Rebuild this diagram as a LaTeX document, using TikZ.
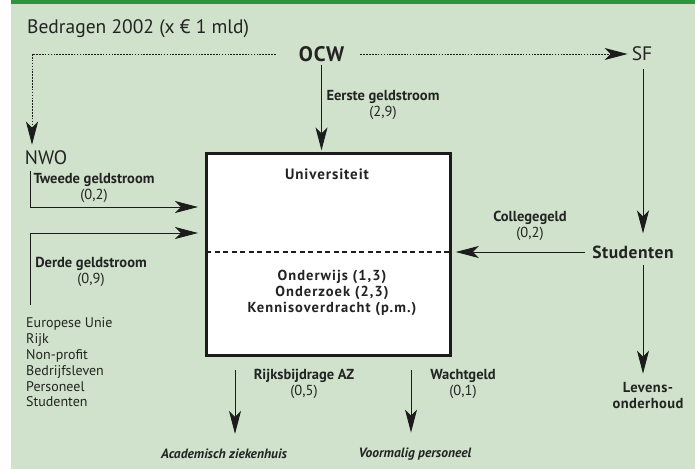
\documentclass[tikz,border=0pt]{standalone}
\usepackage{fontspec}
\setmainfont{PT Sans}
\usetikzlibrary{arrows.meta,positioning,calc}
\definecolor{panelbg}{RGB}{208,226,203}
\definecolor{panelbar}{RGB}{44,150,62}
\definecolor{inkline}{RGB}{28,28,28}
\definecolor{inktext}{RGB}{35,35,35}
\newcommand{\labelfont}{\fontsize{14.5}{16}\selectfont}
\newcommand{\bigfont}{\fontsize{19.5}{22}\selectfont}
\newcommand{\spaced}{\addfontfeature{LetterSpace=6}}
\tikzset{
  unibox/.style={draw=inkline, fill=white, line width=2.6pt,
    minimum width=244pt, minimum height=202pt, inner sep=0pt, outer sep=0pt},
  biglabel/.style={font=\bigfont, text=inktext, inner sep=2pt},
  bigbold/.style={font=\fontsize{21}{22}\selectfont\bfseries\addfontfeature{LetterSpace=5},
    text=inktext, inner sep=2pt},
  unititle/.style={font=\fontsize{15}{18}\selectfont\bfseries\spaced, text=inktext},
  tasklabel/.style={font=\fontsize{14.5}{16}\selectfont\bfseries\addfontfeature{LetterSpace=7},
    text=inktext, align=center},
  flowlabel/.style={font=\labelfont, text=inktext, align=center, inner sep=1pt},
  sinklabel/.style={font=\fontsize{13.5}{16}\selectfont\bfseries\itshape, text=inktext,
    inner sep=1pt},
  sourcelist/.style={font=\fontsize{14}{15.8}\selectfont, text=inktext, align=left,
    inner sep=1pt},
  arrow/.style={-{Stealth[length=23pt,width=12pt,inset=6pt]}, draw=inkline,
    line width=0.9pt},
  fundarrow/.style={arrow, dash pattern=on 1.6pt off 1.3pt},
  divider/.style={draw=inkline, line width=1.2pt, dash pattern=on 5pt off 3.5pt}
}

\begin{document}
\begin{tikzpicture}[x=1pt,y=-1pt]
  \useasboundingbox (0,0) rectangle (695,469);
  \fill[panelbg] (11,0) rectangle (695,469);
  \fill[panelbar] (11,0) rectangle (695,3.5);

  \node[biglabel, anchor=west] (title) at (25,29) {Bedragen 2002 (x € 1 mld)};
  \node[bigbold] (ocw) at (321.5,54) {OCW};
  \node[biglabel] (sf) at (642,54) {SF};
  \node[biglabel] (nwo) at (46,158) {NWO};
  \node[bigbold, font=\fontsize{17.5}{20}\selectfont\bfseries\addfontfeature{LetterSpace=3}]
    (studenten) at (633,252) {Studenten};

  \node[unibox] (univ) at (328.3,254.4) {};
  \node[unititle] (unititle) at (327,174) {Universiteit};
  \node[tasklabel] (tasks) at (332,293)
    {Onderwijs (1,3)\\Onderzoek (2,3)\\Kennisoverdracht (p.m.)};
  \coordinate (divy) at (0,252);
  \draw[divider] (univ.west |- divy) -- (univ.east |- divy);

  \node[sourcelist, anchor=west] (sources) at (25,362.5)
    {Europese Unie\\Rijk\\Non-profit\\Bedrijfsleven\\Personeel\\Studenten};
  \node[sinklabel] (az) at (224,454) {Academisch ziekenhuis};
  \node[sinklabel] (former) at (415,454) {Voormalig personeel};
  \node[flowlabel, font=\labelfont\bfseries\addfontfeature{LetterSpace=3}]
    (levens) at (648,396) {Levens-\\onderhoud};

  \node[flowlabel] (eerste) at (383,105.5) {\textbf{Eerste geldstroom}\\(2,9)};
  \node[flowlabel] (tweede) at (94,188) {\textbf{Tweede geldstroom}\\(0,2)};
  \node[flowlabel] (derde) at (91,272) {\textbf{Derde geldstroom}\\(0,9)};
  \node[flowlabel] (college) at (530,225.5) {\textbf{Collegegeld}\\(0,2)};
  \node[flowlabel] (rijks) at (304,384) {\textbf{Rijksbijdrage AZ}\\(0,5)};
  \node[flowlabel] (wacht) at (463,384) {\textbf{Wachtgeld}\\(0,1)};

  \coordinate (inlet2) at (198,207);
  \coordinate (inlet3) at (198,233);
  \coordinate (derdefoot) at (30,305);
  \coordinate (azdrain) at (235,370);
  \coordinate (formerdrain) at (411,370);

  \draw[fundarrow, shorten <=21pt, shorten >=4pt] (ocw.west) -| ([xshift=-14pt]nwo.north);
  \draw[fundarrow, shorten <=14pt, shorten >=2pt] (ocw.east) -- (sf.west);
  \draw[arrow, shorten <=1pt, shorten >=3pt] (ocw.south) -- (ocw.south |- univ.north);
  \draw[arrow, shorten <=6pt, shorten >=10pt] ([xshift=1pt]sf.south) -- ([xshift=1pt]sf.south |- studenten.north);
  \draw[arrow, shorten <=5pt, shorten >=5.5pt] (studenten.west) -- (univ.east |- studenten.west);
  \draw[arrow, shorten <=4pt, shorten >=8pt] ([xshift=1pt]sf.south |- studenten.south) -- ([xshift=1pt]sf.south |- levens.north);
  \draw[arrow, shorten <=3.5pt] ([xshift=-16pt]nwo.south) |- (inlet2);
  \draw[arrow] (derdefoot) |- (inlet3);
  \draw[arrow, shorten >=14pt] (azdrain) -- (azdrain |- az.north);
  \draw[arrow, shorten >=14pt] (formerdrain) -- (formerdrain |- former.north);
\end{tikzpicture}
\end{document}
